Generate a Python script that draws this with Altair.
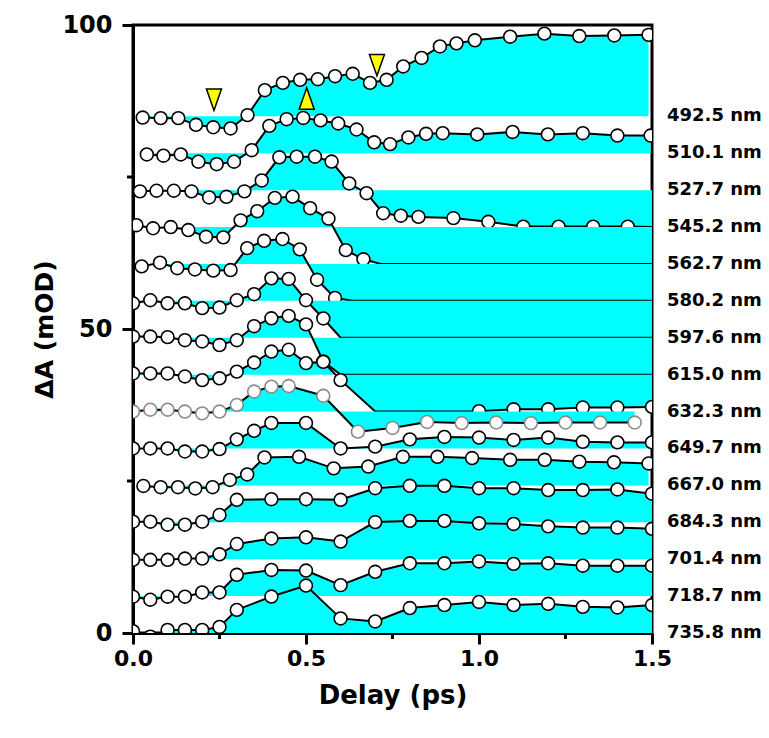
import altair as alt
import pandas as pd

# ---------------- data ----------------
labels = ["735.8 nm", "718.7 nm", "701.4 nm", "684.3 nm", "667.0 nm", "649.7 nm",
          "632.3 nm", "615.0 nm", "597.6 nm", "580.2 nm", "562.7 nm", "545.2 nm",
          "527.7 nm", "510.1 nm", "492.5 nm"]
offsets = [0.0, 6.07, 12.14, 18.21, 24.28, 30.35, 36.42, 42.49, 48.56, 54.63,
           60.70, 66.77, 72.84, 78.91, 84.98]

t_7358 = [0.0, 0.05, 0.1, 0.15, 0.2, 0.25, 0.3, 0.4, 0.5, 0.6, 0.7, 0.8, 0.9, 1.0, 1.1, 1.2, 1.3, 1.4, 1.5]
r_7358 = [0.3, -0.6, 0.5, 0.5, 0.5, 1.0, 3.8, 6.0, 7.8, 2.4, 1.9, 4.1, 4.6, 5.1, 4.6, 4.8, 4.3, 4.2, 4.6]

t_7187 = [0.0, 0.05, 0.1, 0.15, 0.2, 0.25, 0.3, 0.4, 0.5, 0.6, 0.7, 0.8, 0.9, 1.0, 1.1, 1.2, 1.3, 1.4, 1.5]
r_7187 = [-0.1, -0.6, -0.1, -0.1, 0.6, 0.6, 3.5, 4.3, 4.2, 1.8, 4.0, 5.4, 5.4, 5.7, 5.3, 5.4, 5.0, 5.0, 5.0]

t_7014 = [0.0, 0.05, 0.1, 0.15, 0.2, 0.25, 0.3, 0.4, 0.5, 0.6, 0.7, 0.8, 0.9, 1.0, 1.1, 1.2, 1.3, 1.4, 1.5]
r_7014 = [-0.1, -0.1, -0.1, 0.1, 0.1, 0.8, 2.5, 3.4, 3.6, 2.9, 6.1, 6.3, 6.3, 5.9, 5.8, 5.4, 5.2, 5.2, 5.0]

t_6843 = [0.0, 0.05, 0.1, 0.15, 0.2, 0.25, 0.3, 0.4, 0.5, 0.6, 0.7, 0.8, 0.9, 1.0, 1.1, 1.2, 1.3, 1.4, 1.5]
r_6843 = [0.1, 0.1, -0.4, -0.4, 0.1, 1.2, 3.7, 3.8, 3.8, 3.7, 5.6, 6.0, 6.0, 5.6, 5.6, 5.3, 5.3, 5.4, 4.7]

t_6670 = [0.03, 0.08, 0.13, 0.18, 0.23, 0.28, 0.33, 0.38, 0.48, 0.58, 0.68, 0.78, 0.88, 0.98, 1.09, 1.19, 1.29, 1.39, 1.49]
r_6670 = [-0.1, -0.3, -0.3, -0.5, -0.3, 0.9, 1.8, 4.6, 4.7, 2.8, 3.1, 4.7, 4.7, 4.5, 4.2, 4.2, 3.9, 3.8, 3.6]

t_6497 = [0.0, 0.05, 0.1, 0.15, 0.2, 0.25, 0.3, 0.35, 0.4, 0.5, 0.6, 0.7, 0.8, 0.9, 1.0, 1.1, 1.2, 1.3, 1.4, 1.5]
r_6497 = [0.0, 0.0, 0.0, -0.5, -0.5, -0.1, 1.5, 2.9, 4.2, 4.2, 0.0, 0.3, 1.5, 1.9, 1.8, 1.4, 1.8, 1.1, 1.0, 1.0]

t_6323 = [0.0, 0.05, 0.1, 0.15, 0.2, 0.25, 0.3, 0.35, 0.4, 0.45, 0.55, 0.65, 0.75, 0.85, 0.95, 1.05, 1.15, 1.25, 1.35, 1.45]
r_6323 = [0.0, 0.3, 0.3, 0.0, -0.3, 0.0, 1.1, 3.3, 4.1, 4.2, 2.6, -3.3, -2.7, -1.7, -1.9, -1.8, -1.9, -1.8, -1.8, -1.8]

t_6150 = [0.0, 0.05, 0.1, 0.15, 0.2, 0.25, 0.3, 0.35, 0.4, 0.45, 0.5, 0.55, 0.6, 0.7, 0.8, 0.9, 1.0, 1.1, 1.2, 1.3, 1.4, 1.5]
r_6150 = [0.2, 0.2, 0.2, -0.3, -0.9, -0.6, 0.5, 2.0, 3.8, 4.1, 1.9, 2.1, -0.9, -7.0, -8.0, -6.2, -6.0, -5.7, -5.7, -5.4, -5.4, -5.3]

t_5976 = [0.0, 0.05, 0.1, 0.15, 0.2, 0.25, 0.3, 0.35, 0.4, 0.45, 0.5, 0.55, 0.6, 0.7, 0.8, 0.9, 1.0, 1.1, 1.2, 1.3, 1.4, 1.5]
r_5976 = [0.2, 0.2, 0.1, -0.4, -0.6, -1.2, -0.4, 1.9, 3.2, 3.6, 2.2, -3.9, -6.5, -10, -10, -10, -10, -10, -10, -10, -10, -10]

t_5802 = [0.0, 0.05, 0.1, 0.15, 0.2, 0.25, 0.3, 0.35, 0.4, 0.45, 0.5, 0.55, 0.6, 0.7, 0.8, 0.9, 1.0, 1.1, 1.2, 1.3, 1.4, 1.5]
r_5802 = [-0.4, 0.1, -0.4, -0.4, -1.2, -1.1, 0.1, 1.1, 3.7, 3.6, 0.1, -2.9, -10, -10, -10, -10, -10, -10, -10, -10, -10, -10]

t_5627 = [0.025, 0.078, 0.128, 0.179, 0.232, 0.282, 0.33, 0.379, 0.432, 0.482, 0.532, 0.584, 0.634, 0.7, 0.8, 0.9, 1.0, 1.1, 1.2, 1.3, 1.4, 1.5]
r_5627 = [-0.4, 0.2, -0.7, -0.9, -1.1, -1.0, 2.6, 3.8, 4.1, 2.4, -2.6, -5.6, -10, -10, -10, -10, -10, -10, -10, -10, -10, -10]

t_5452 = [0.01, 0.058, 0.109, 0.16, 0.211, 0.261, 0.311, 0.359, 0.41, 0.461, 0.512, 0.565, 0.615, 0.666, 0.716, 0.8, 0.9, 1.0, 1.1, 1.2, 1.3, 1.4, 1.5]
r_5452 = [0.3, -0.2, 0.0, -0.5, -1.6, -1.7, 1.1, 2.6, 4.8, 5.0, 3.1, 1.4, -3.8, -5.3, -10, -10, -10, -10, -10, -10, -10, -10, -10]

t_5277 = [0.02, 0.068, 0.118, 0.169, 0.22, 0.27, 0.322, 0.372, 0.423, 0.473, 0.526, 0.574, 0.625, 0.675, 0.723, 0.774, 0.825, 0.926, 1.027, 1.128, 1.23, 1.33, 1.43, 1.5]
r_5277 = [-0.2, -0.1, -0.1, -0.2, -1.2, -1.1, -0.2, 1.6, 5.4, 5.5, 5.5, 4.7, 1.1, -0.5, -3.8, -4.2, -4.4, -4.6, -5.2, -6.0, -6.0, -6.0, -6.0, -6.2]

t_5101 = [0.04, 0.088, 0.138, 0.189, 0.242, 0.292, 0.343, 0.394, 0.444, 0.492, 0.542, 0.593, 0.646, 0.697, 0.743, 0.796, 0.847, 0.895, 0.995, 1.097, 1.199, 1.3, 1.4, 1.496]
r_5101 = [-0.2, -0.4, -0.2, -1.4, -1.8, -1.4, 0.5, 4.5, 5.6, 5.8, 5.4, 4.9, 3.9, 1.8, 1.5, 2.6, 3.2, 3.3, 3.1, 3.5, 3.1, 3.3, 2.9, 2.9]

t_4925 = [0.028, 0.08, 0.131, 0.182, 0.232, 0.282, 0.331, 0.381, 0.433, 0.483, 0.534, 0.584, 0.635, 0.685, 0.733, 0.781, 0.834, 0.887, 0.935, 0.988, 1.09, 1.189, 1.29, 1.391, 1.49]
r_4925 = [-0.2, -0.3, -0.3, -1.4, -1.8, -2.0, 0.2, 4.3, 5.5, 6.0, 6.1, 6.6, 7.0, 5.5, 6.0, 8.2, 9.6, 11.5, 12.0, 12.5, 13.1, 13.6, 13.2, 13.3, 13.4]

traces = [(t_7358, r_7358), (t_7187, r_7187), (t_7014, r_7014), (t_6843, r_6843),
          (t_6670, r_6670), (t_6497, r_6497), (t_6323, r_6323), (t_6150, r_6150),
          (t_5976, r_5976), (t_5802, r_5802), (t_5627, r_5627), (t_5452, r_5452),
          (t_5277, r_5277), (t_5101, r_5101), (t_4925, r_4925)]

# yellow arrow-head markers
tri_t = [0.234, 0.502, 0.705]
tri_v = [87.7, 87.9, 93.4]
tri_dir = ["down", "up", "down"]

x_ticks = [0.0, 0.5, 1.0, 1.5]
x_minor = [0.25, 0.75, 1.25]
y_ticks = [0, 50, 100]
y_minor = [25, 75]

# ---------------- style ----------------
CYAN = "#00FFFF"
FONT = "DejaVu Sans"
W, H = 519, 608
edge_colors = ["black"] * 15
edge_colors[6] = "#8a8a8a"

rows = []
for k, (ts, rs) in enumerate(traces):
    lo = -(offsets[k] - offsets[k - 1]) if k > 0 else -1000.0
    for t, r in zip(ts, rs):
        rows.append(dict(k=k, t=t, r=r, off=offsets[k], lo=lo))
df = pd.DataFrame(rows)

xscale = alt.Scale(domain=[0, 1.5], nice=False, zero=False)
yscale = alt.Scale(domain=[0, 100], nice=False, zero=False)
xaxis = alt.Axis(values=x_ticks, format=".1f", title="Delay (ps)", grid=False,
                 labelFontSize=22, titleFontSize=26, tickSize=11, labelPadding=4,
                 labelFlush=False, titleY=70, titleBaseline="alphabetic")
yaxis = alt.Axis(values=y_ticks, format="d", title="ΔA (mOD)", grid=False,
                 labelFontSize=24, titleFontSize=25, tickSize=11, labelPadding=10,
                 labelFlush=False, titleX=-81, titleY=H / 2,
                 titleBaseline="alphabetic", titleAngle=270)

X = alt.X("t:Q", scale=xscale, axis=xaxis)
Y = alt.Y("yv:Q", scale=yscale, axis=yaxis)

layers = []
for k in range(len(traces) - 1, -1, -1):
    base = alt.Chart(df).transform_filter(f"datum.k == {k}").transform_calculate(
        yv="datum.off + max(datum.r, datum.lo)")
    layers.append(base.mark_area(color=CYAN, opacity=1, clip=True).encode(x=X, y=Y, y2="off:Q"))
    layers.append(base.mark_line(color="black", strokeWidth=2, clip=True).encode(x=X, y=Y))
    layers.append(base.transform_filter("datum.r >= datum.lo").mark_circle(
        color="white", opacity=1, stroke=edge_colors[k], strokeWidth=1.6, size=165, clip=True
    ).encode(x=X, y=Y))

# minor ticks
ymin_df = pd.DataFrame({"yv": y_minor})
layers.append(alt.Chart(ymin_df).mark_rule(color="black", strokeWidth=3).encode(
    y=Y, x=alt.value(-6), x2=alt.value(0)))
xmin_df = pd.DataFrame({"t": x_minor})
layers.append(alt.Chart(xmin_df).mark_rule(color="black", strokeWidth=3).encode(
    x=X, y=alt.value(H), y2=alt.value(H + 6)))

# wavelength labels
lab_df = pd.DataFrame({"lab": labels, "yv": offsets})
layers.append(alt.Chart(lab_df).mark_text(
    align="left", baseline="middle", font=FONT, fontSize=18, fontWeight="bold", color="black"
).encode(x=alt.value(W + 15), y=Y, text="lab:N"))

# triangles
tri_df = pd.DataFrame({"t": tri_t, "yv": tri_v, "dir": tri_dir})
down_path = "M-0.7,-1L0.7,-1L0,1Z"
up_path = "M-0.7,1L0.7,1L0,-1Z"
layers.append(alt.Chart(tri_df).mark_point(
    filled=True, fill="#FFFF00", stroke="black", strokeWidth=1.5, opacity=1, size=460
).encode(x=X, y=Y, shape=alt.Shape("dir:N", scale=alt.Scale(domain=["down", "up"],
                                                            range=[down_path, up_path]),
                                   legend=None)))

chart = alt.layer(*layers).properties(
    width=W, height=H,
    autosize=alt.AutoSizeParams(type="none"),
    padding={"left": 133, "top": 25, "right": 117, "bottom": 105},
).configure_view(stroke="black", strokeWidth=3).configure_axis(
    domainColor="black", domainWidth=3, tickColor="black", tickWidth=3,
    labelColor="black", titleColor="black", labelFont=FONT, titleFont=FONT,
    labelFontWeight="bold", titleFontWeight="bold"
)

chart.save("out.html", embed_options={"renderer": "svg", "actions": False})
